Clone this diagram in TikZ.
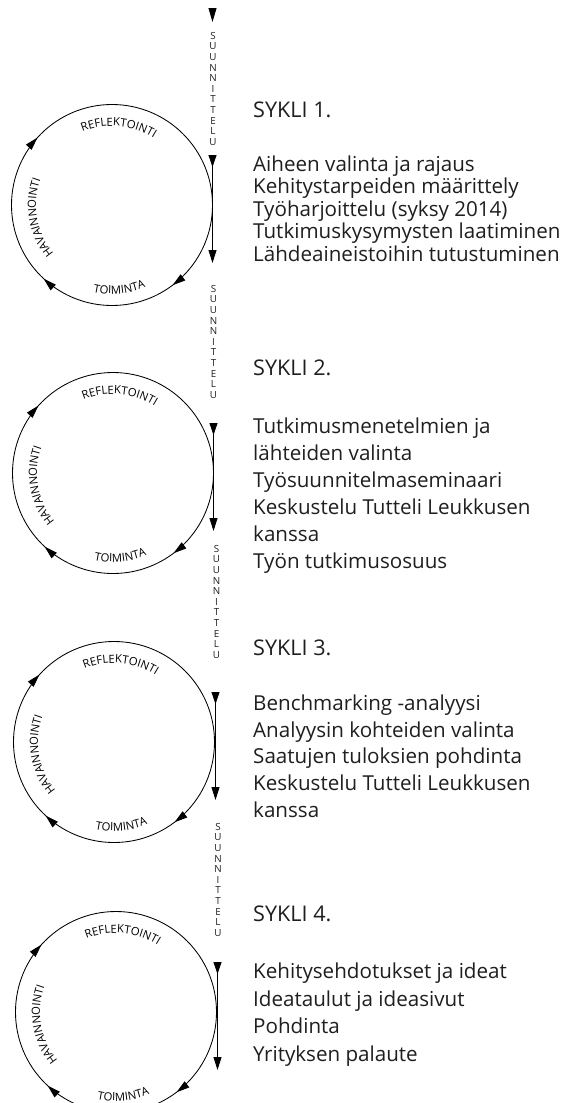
\documentclass[tikz,border=0pt]{standalone}
\usepackage{fontspec}
\setmainfont{Open Sans}
\usetikzlibrary{arrows.meta,decorations.markings,decorations.text,calc}
\newcommand\lblfont{\fontsize{11.3}{12}\selectfont}
\tikzset{
  body/.style={anchor=base west, inner sep=0pt, text=black!88, font=\fontsize{20.6}{24}\selectfont},
  title/.style={body, font=\fontsize{21.6}{24}\selectfont},
  vword/.style={anchor=north, inner sep=0pt, align=center, text=black!88, font=\fontsize{9.8}{10.6}\selectfont},
  cyc/.style={line width=0.85pt, postaction={decorate}, decoration={markings,
      mark=at position 0.383 with {\arrowreversed{Triangle[length=13pt,width=7.5pt]}},
      mark=at position 0.631 with {\arrowreversed{Triangle[length=13pt,width=7.5pt]}},
      mark=at position 0.853 with {\arrowreversed{Triangle[length=13pt,width=7.5pt]}}}},
  vline/.style={line width=0.85pt, {Triangle[reversed,length=12pt,width=8pt]}-{Triangle[length=13pt,width=8pt]}},
  endtip/.style={line width=0.85pt, -{Triangle[length=14pt,width=8pt]}}
}
\begin{document}
\begin{tikzpicture}[x=1pt,y=1pt]
\useasboundingbox (0,0) rectangle (565,-1103);
\clip (0,0) rectangle (565,-1103);
\fill[white] (0,0) rectangle (565,-1103);

% arrowhead arriving from above the picture
\coordinate (t0a) at (212.5,-8);
\coordinate (t0b) at (212.5,-22);
\draw[endtip] (t0a) -- (t0b);

\foreach \k/\cx/\cy/\lx/\sx/\sy in {1/112/205/212.5/213/32, 2/113/473/213.5/213.5/285, 3/114/742/215.5/216.5/545, 4/116/1012/217.5/218/823}{
  \pgfmathsetmacro\ys{-(\cy-50)}
  \pgfmathsetmacro\ye{-(\cy+58)}
  \coordinate (c\k) at (\cx,-\cy);
  \draw[cyc] (c\k) circle[radius=100.5];
  \path[decorate, decoration={text along path, text align=center,
      text={|\lblfont|REFLEKTOINTI}}]
      ($(c\k)+(130:79)$) arc[start angle=130, end angle=40, radius=79];
  \path[decorate, decoration={text along path, text align=center,
      text={|\lblfont|TOIMINTA}}]
      ($(c\k)+(-125:89)$) arc[start angle=-125, end angle=-45, radius=89];
  \path[decorate, decoration={text along path, text align=center,
      text={|\lblfont|HAVAINNOINTI}}]
      ($(c\k)+(240:76)$) arc[start angle=240, end angle=140, radius=76];
  \node[vword] (su\k) at (\sx,-\sy) {S\\U\\U\\N\\N\\I\\T\\T\\E\\L\\U};
  \coordinate (s\k) at (\lx,\ys);
  \coordinate (e\k) at (\lx,\ye);
  \draw[vline] (s\k) -- (e\k);
}

\node[title] (h1) at (253,-117) {SYKLI 1.};
\foreach \y/\t [count=\i] in {171/Aiheen valinta ja rajaus, 193.5/Kehitystarpeiden määrittely, 216/Työharjoittelu (syksy 2014), 238.5/Tutkimuskysymysten laatiminen, 261/Lähdeaineistoihin tutustuminen}
  \node[body] (a1-\i) at (253,-\y) {\t};

\node[title] (h2) at (253,-375) {SYKLI 2.};
\foreach \y/\t [count=\i] in {433/Tutkimusmenetelmien ja, 460/lähteiden valinta, 487/Työsuunnitelmaseminaari, 514.5/Keskustelu Tutteli Leukkusen, 541.5/kanssa, 568.5/Työn tutkimusosuus}
  \node[body] (a2-\i) at (253,-\y) {\t};

\node[title] (h3) at (253,-655) {SYKLI 3.};
\foreach \y/\t [count=\i] in {710/Benchmarking -analyysi, 737/Analyysin kohteiden valinta, 763.5/Saatujen tuloksien pohdinta, 790/Keskustelu Tutteli Leukkusen, 817/kanssa}
  \node[body] (a3-\i) at (253,-\y) {\t};

\node[title] (h4) at (253,-921.5) {SYKLI 4.};
\foreach \y/\t [count=\i] in {978.5/Kehitysehdotukset ja ideat, 1006.5/Ideataulut ja ideasivut, 1033.5/Pohdinta, 1061.5/Yrityksen palaute}
  \node[body] (a4-\i) at (253,-\y) {\t};
\end{tikzpicture}
\end{document}
